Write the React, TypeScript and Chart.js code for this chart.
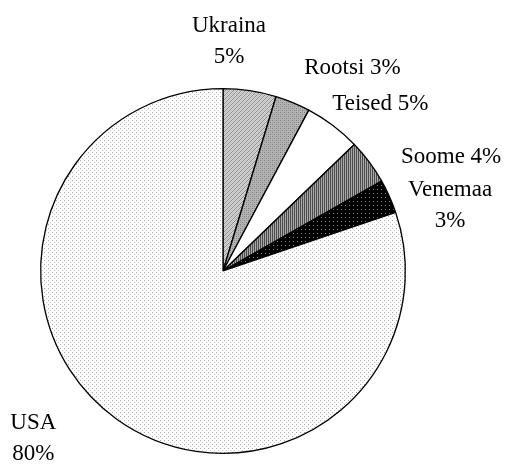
import React, { useEffect, useRef } from "react";
import { Chart, registerables } from "chart.js";

Chart.register(...registerables);

const categories = ["Ukraina", "Rootsi", "Teised", "Soome", "Venemaa", "USA"];
const shares = [4.7, 3.1, 5.0, 4.0, 3.0, 80.2];
const labelLines = [
  ["Ukraina", "5%"],
  ["Rootsi 3%"],
  ["Teised 5%"],
  ["Soome 4%"],
  ["Venemaa", "3%"],
  ["USA", "80%"],
];
// label block centre, in units of the pie radius, relative to the pie centre
const labelOffsets = [
  [0.033, -1.26],
  [0.71, -1.115],
  [0.863, -0.918],
  [1.251, -0.623],
  [1.245, -0.36],
  [-1.04, 0.92],
];

function makePattern(kind: string): CanvasPattern | string {
  const c = document.createElement("canvas");
  const s = 4;
  c.width = s;
  c.height = s;
  const g = c.getContext("2d")!;
  const px = (x: number, y: number, col: string) => {
    g.fillStyle = col;
    g.fillRect(x, y, 1, 1);
  };
  if (kind === "hatch") {
    g.fillStyle = "#d6d6d6";
    g.fillRect(0, 0, s, s);
    for (let i = 0; i < s; i++) px(i, s - 1 - i, "#8e8e8e");
    for (let i = 0; i < s; i++) px((i + 2) % s, s - 1 - i, "#bdbdbd");
  } else if (kind === "dots") {
    g.fillStyle = "#b4b4b4";
    g.fillRect(0, 0, s, s);
    px(0, 0, "#7c7c7c");
    px(2, 2, "#7c7c7c");
    px(2, 0, "#9a9a9a");
    px(0, 2, "#9a9a9a");
  } else if (kind === "vstripe") {
    g.fillStyle = "#a8a8a8";
    g.fillRect(0, 0, s, s);
    g.fillStyle = "#4c4c4c";
    g.fillRect(0, 0, 1, s);
    g.fillRect(2, 0, 1, s);
  } else if (kind === "blackdots") {
    g.fillStyle = "#000000";
    g.fillRect(0, 0, s, s);
    px(1, 1, "#8a8a8a");
  } else if (kind === "lightdots") {
    g.fillStyle = "#ffffff";
    g.fillRect(0, 0, s, s);
    px(0, 0, "#a8a8a8");
    px(2, 2, "#c8c8c8");
  } else {
    return "#ffffff";
  }
  return g.createPattern(c, "repeat")!;
}

const patternKinds = ["hatch", "dots", "white", "vstripe", "blackdots", "lightdots"];

const labelPlugin = {
  id: "sliceLabels",
  afterDatasetsDraw(chart: any) {
    const meta = chart.getDatasetMeta(0);
    const ctx = chart.ctx as CanvasRenderingContext2D;
    ctx.save();
    ctx.fillStyle = "#000";
    ctx.font = "23px 'Liberation Serif', 'Times New Roman', serif";
    ctx.textAlign = "center";
    ctx.textBaseline = "middle";
    const lh = 31;
    meta.data.forEach((arc: any, i: number) => {
      const { x, y, outerRadius } = arc.getProps(["x", "y", "outerRadius"], true);
      const [fx, fy] = labelOffsets[i];
      const cx = x + fx * outerRadius;
      const cy = y + fy * outerRadius;
      const lines = labelLines[i];
      lines.forEach((t, j) => {
        ctx.fillText(t, cx, cy + (j - (lines.length - 1) / 2) * lh);
      });
    });
    ctx.restore();
  },
};

export default function App() {
  const ref = useRef<HTMLCanvasElement | null>(null);
  useEffect(() => {
    document.body.style.margin = "0";
    const chart = new Chart(ref.current!, {
      type: "pie",
      data: {
        labels: categories,
        datasets: [
          {
            data: shares,
            backgroundColor: patternKinds.map(makePattern) as any,
            borderColor: "#000000",
            borderWidth: 1.3,
          },
        ],
      },
      options: {
        animation: false,
        responsive: false,
        layout: { padding: { left: 40, right: 104, top: 88, bottom: 10 } },
        plugins: { legend: { display: false }, tooltip: { enabled: false } },
      },
      plugins: [labelPlugin],
    });
    return () => chart.destroy();
  }, []);
  return (
    <div style={{ position: "absolute", left: 0, top: 0, width: 510, height: 464, background: "#fff" }}>
      <canvas ref={ref} width={510} height={464} style={{ width: 510, height: 464 }} />
    </div>
  );
}
